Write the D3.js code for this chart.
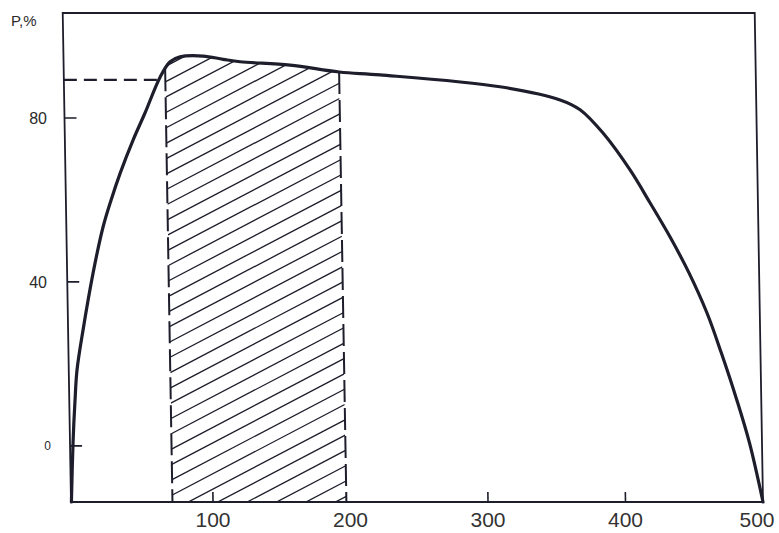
<!DOCTYPE html>
<html><head><meta charset="utf-8">
<script src="https://cdn.jsdelivr.net/npm/d3@7/dist/d3.min.js"></script>
<style>
html,body{margin:0;padding:0;background:#fff;}
svg{display:block;}
</style></head>
<body>
<script>
// ---- data ----
const curveX = [-3, -1.1, 0.9, 2.7, 7.6, 15.6, 23.4, 29.6, 36.6, 46.3, 55.3, 66.8, 74.2, 81.5, 98.3, 112.8, 125.1, 161.4, 197, 226.7, 313.8, 357.4, 371.8, 388.2, 407.4, 421.5, 435.6, 449.0, 461.6, 471.5, 482.2, 490.9, 500];
const curveY = [-13.7, 0.7, 11.2, 18.5, 28.3, 42.2, 53.4, 60, 66.6, 74.6, 81.2, 90, 93.7, 94.9, 95.1, 94.3, 93.7, 92.9, 91.2, 90.5, 87.6, 84.4, 82, 76.3, 67.3, 59.3, 51, 42.2, 32.4, 22.7, 11.2, 0.7, -13.7];
const hatchRange = [70.5, 197];
const dashedLevel = 89.3;
const xTickLabels = [100, 200, 300, 400, 500];
const xTickMarks = [100, 300, 400];
const yTickLabels = [0, 40, 80];
const xDomain = [-3.3, 500];
const yDomain = [-13.7, 105.6];

// ---- drawing ----
const W = 779, H = 533;
const svg = d3.select("body").append("svg").attr("width", W).attr("height", H);
const x = d3.scaleLinear().domain(xDomain).range([71, 763]);
const y = d3.scaleLinear().domain(yDomain).range([502, 13]);
const ink = "#1d1d2b";

const pts = curveX.map((d, i) => [d, curveY[i]]);
const interp = (xv) => {
  for (let i = 0; i < pts.length - 1; i++) {
    if (xv >= pts[i][0] && xv <= pts[i + 1][0]) {
      const t = (xv - pts[i][0]) / (pts[i + 1][0] - pts[i][0]);
      return pts[i][1] + t * (pts[i + 1][1] - pts[i][1]);
    }
  }
  return pts[pts.length - 1][1];
};

// slight scan skew
const g = svg.append("g").attr("transform", "translate(0,502) skewX(0.97) translate(0,-502)");

const line = d3.line().x(d => x(d[0])).y(d => y(d[1])).curve(d3.curveCatmullRom.alpha(0.5));

// hatched region clip
const hatchPts = [[hatchRange[0], yDomain[0]], [hatchRange[0], interp(hatchRange[0])]];
pts.filter(p => p[0] > hatchRange[0] && p[0] < hatchRange[1]).forEach(p => hatchPts.push(p));
hatchPts.push([hatchRange[1], interp(hatchRange[1])]);
hatchPts.push([hatchRange[1], yDomain[0]]);
svg.append("defs").append("clipPath").attr("id", "hclip")
  .append("path").attr("d", d3.line().x(d => x(d[0])).y(d => y(d[1]))(hatchPts) + "Z");

const hx0 = x(hatchRange[0]), hx1 = x(hatchRange[1]);
const slope = 0.52, step = 15.3;
const hatchG = g.append("g").attr("clip-path", "url(#hclip)");
const cs = d3.range(y(100), y(yDomain[0]) + (hx1 - hx0) * slope + step, step);
hatchG.selectAll("line").data(cs).join("line")
  .attr("x1", hx0).attr("y1", d => d)
  .attr("x2", hx1).attr("y2", d => d - (hx1 - hx0) * slope)
  .attr("stroke", ink).attr("stroke-width", 1.3);

// hatch dashed edges
hatchRange.forEach(v => {
  g.append("line").attr("x1", x(v)).attr("x2", x(v))
    .attr("y1", y(interp(v))).attr("y2", y(yDomain[0]))
    .attr("stroke", ink).attr("stroke-width", 2).attr("stroke-dasharray", "22,6");
});
// dashed horizontal
g.append("line").attr("x1", x(xDomain[0])).attr("x2", x(hatchRange[0]) - 5)
  .attr("y1", y(dashedLevel)).attr("y2", y(dashedLevel))
  .attr("stroke", ink).attr("stroke-width", 2.2).attr("stroke-dasharray", "13,7");

// frame
g.append("rect").attr("x", x(xDomain[0])).attr("y", y(yDomain[1]))
  .attr("width", x(xDomain[1]) - x(xDomain[0])).attr("height", y(yDomain[0]) - y(yDomain[1]))
  .attr("fill", "none").attr("stroke", ink).attr("stroke-width", 1.8);

// ticks
g.selectAll(".xt").data(xTickMarks).join("line")
  .attr("x1", d => x(d)).attr("x2", d => x(d))
  .attr("y1", y(yDomain[0])).attr("y2", y(yDomain[0]) - 10)
  .attr("stroke", ink).attr("stroke-width", 1.6);
g.selectAll(".yt").data(yTickLabels).join("line")
  .attr("x1", x(xDomain[0])).attr("x2", x(xDomain[0]) + 12)
  .attr("y1", d => y(d)).attr("y2", d => y(d))
  .attr("stroke", ink).attr("stroke-width", 1.6);

// curve
g.append("path").attr("d", line(pts)).attr("fill", "none")
  .attr("stroke", ink).attr("stroke-width", 3.2).attr("stroke-linejoin", "round").attr("stroke-linecap", "round");

// labels
svg.selectAll(".xl").data(xTickLabels).join("text")
  .attr("x", d => Math.min(x(d), W - 22)).attr("y", 527)
  .attr("text-anchor", "middle")
  .attr("font-family", "'Liberation Sans',Arial,sans-serif")
  .attr("font-size", 21).attr("fill", "#333").text(d => d);
svg.selectAll(".yl").data(yTickLabels).join("text")
  .attr("x", d => d === 0 ? 51 : 47).attr("y", d => y(d) + (d === 0 ? 4 : 6))
  .attr("text-anchor", "end")
  .attr("font-family", "'Liberation Sans',Arial,sans-serif")
  .attr("font-size", d => d === 0 ? 12 : 16).attr("fill", "#2a2a2a").text(d => d);
svg.append("text").attr("x", 11).attr("y", 26)
  .attr("font-family", "'Liberation Sans',Arial,sans-serif")
  .attr("font-size", 15).attr("fill", "#2a2a2a").text("P,%");
</script>
</body></html>
